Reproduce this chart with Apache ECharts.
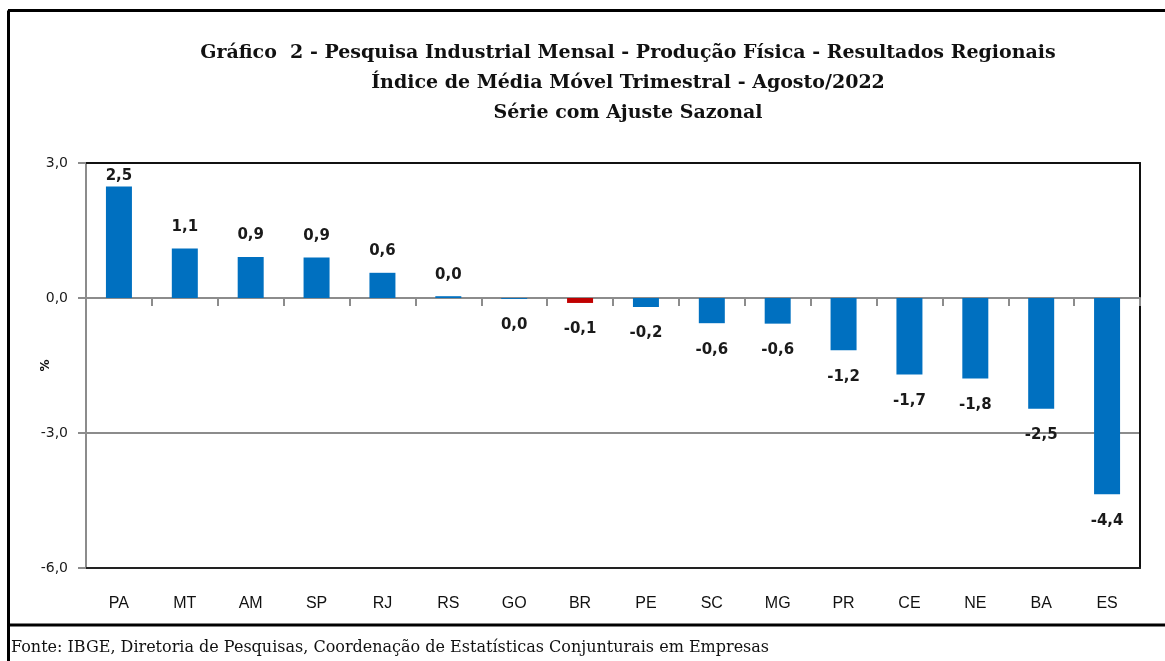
<!DOCTYPE html>
<html>
<head>
<meta charset="utf-8">
<title>Gráfico 2 - Resultados Regionais</title>
<script src="https://cdn.jsdelivr.net/npm/echarts@6/dist/echarts.min.js"></script>
<style>
html, body { margin: 0; padding: 0; background: #fff; }
#chart { width: 1165px; height: 661px; }
</style>
</head>
<body>
<div id="chart"></div>
<script>
// dados (% , média móvel trimestral)
var regioes = ["PA", "MT", "AM", "SP", "RJ", "RS", "GO", "BR", "PE", "SC", "MG", "PR", "CE", "NE", "BA", "ES"];
var valores = [2.48, 1.1, 0.91, 0.9, 0.56, 0.04, -0.02, -0.11, -0.2, -0.56, -0.57, -1.16, -1.7, -1.79, -2.46, -4.36];
var destaque = ["BR"]; // barra em vermelho
var yTicks = [-6, -3, 0, 3];

var azul = "#0070C0";
var vermelho = "#C00000";

function fmt(v) {
  var r = Math.round(v * 10) / 10;
  if (Math.abs(r) < 0.05) r = 0;
  return r.toFixed(1).replace(".", ",");
}

var barData = valores.map(function (v, i) {
  var item = {
    value: v,
    itemStyle: { color: destaque.indexOf(regioes[i]) >= 0 ? vermelho : azul },
    label: { position: v >= 0 ? "top" : "bottom", distance: v >= 0 ? 14 : 19 }
  };
  if (i === 0) item.label.distance = 3; // rótulo encostado na borda superior
  return item;
});

var chart = echarts.init(document.getElementById("chart"));

chart.setOption({
  backgroundColor: "#fff",
  animation: false,
  title: {
    text: "Gráfico  2 - Pesquisa Industrial Mensal - Produção Física - Resultados Regionais\nÍndice de Média Móvel Trimestral - Agosto/2022\nSérie com Ajuste Sazonal",
    left: 623,
    top: 33,
    textAlign: "center",
    textStyle: {
      fontFamily: "DejaVu Serif",
      fontWeight: "bold",
      fontSize: 19,
      lineHeight: 30,
      color: "#111"
    }
  },
  grid: { left: 86, right: 25, top: 163, bottom: 93 },
  xAxis: [
    {
      type: "category",
      data: regioes,
      axisLine: { onZero: true, lineStyle: { color: "#8c8c8c", width: 2 } },
      axisTick: { show: true, length: 8, lineStyle: { color: "#8c8c8c", width: 2 } },
      axisLabel: { show: false },
      splitLine: { show: false }
    },
    {
      type: "category",
      data: regioes,
      position: "bottom",
      axisLine: { onZero: false, lineStyle: { color: "#222", width: 2 } },
      axisTick: { show: false },
      axisLabel: {
        margin: 28,
        fontFamily: "Liberation Sans, Arial",
        fontSize: 16,
        color: "#111"
      }
    },
    {
      type: "category",
      data: regioes,
      position: "top",
      axisLine: { onZero: false, lineStyle: { color: "#111", width: 2 } },
      axisTick: { show: false },
      axisLabel: { show: false }
    }
  ],
  yAxis: [
    {
      type: "value",
      min: yTicks[0],
      max: yTicks[yTicks.length - 1],
      interval: 3,
      name: "%",
      nameLocation: "middle",
      nameGap: 34,
      nameRotate: 90,
      nameMoveOverlap: false,
      nameTextStyle: { fontFamily: "DejaVu Sans", fontSize: 12, fontWeight: "bold", color: "#111" },
      axisLine: { show: true, lineStyle: { color: "#8c8c8c", width: 2 } },
      axisTick: { show: true, length: 8, lineStyle: { color: "#8c8c8c", width: 2 } },
      axisLabel: {
        margin: 18,
        fontFamily: "DejaVu Sans",
        fontSize: 14,
        color: "#1a1a1a",
        formatter: function (v) { return v.toFixed(1).replace(".", ","); }
      },
      splitLine: { show: true, lineStyle: { color: "#8c8c8c", width: 2 } }
    },
    {
      type: "value",
      min: yTicks[0],
      max: yTicks[yTicks.length - 1],
      interval: 3,
      position: "right",
      axisLine: { show: true, lineStyle: { color: "#111", width: 2 } },
      axisTick: { show: false },
      axisLabel: { show: false },
      splitLine: { show: false }
    }
  ],
  series: [
    {
      type: "bar",
      xAxisIndex: 0,
      yAxisIndex: 0,
      barWidth: 26,
      data: barData,
      label: {
        show: true,
        fontFamily: "DejaVu Sans",
        fontWeight: "bold",
        fontSize: 15,
        color: "#1a1a1a",
        formatter: function (p) { return fmt(p.value); }
      }
    }
  ],
  graphic: [
    { type: "line", silent: true, shape: { x1: 8.5, y1: 10.5, x2: 8.5, y2: 661 }, style: { stroke: "#000", lineWidth: 3 } },
    { type: "line", silent: true, shape: { x1: 8, y1: 10.5, x2: 1165, y2: 10.5 }, style: { stroke: "#000", lineWidth: 3 } },
    { type: "line", silent: true, shape: { x1: 8, y1: 625, x2: 1165, y2: 625 }, style: { stroke: "#000", lineWidth: 3 } },
    {
      type: "text",
      left: 11,
      top: 640,
      style: {
        text: "Fonte: IBGE, Diretoria de Pesquisas, Coordenação de Estatísticas Conjunturais em Empresas",
        fontFamily: "DejaVu Serif",
        fontSize: 16,
        fill: "#111"
      }
    }
  ]
});
</script>
</body>
</html>
